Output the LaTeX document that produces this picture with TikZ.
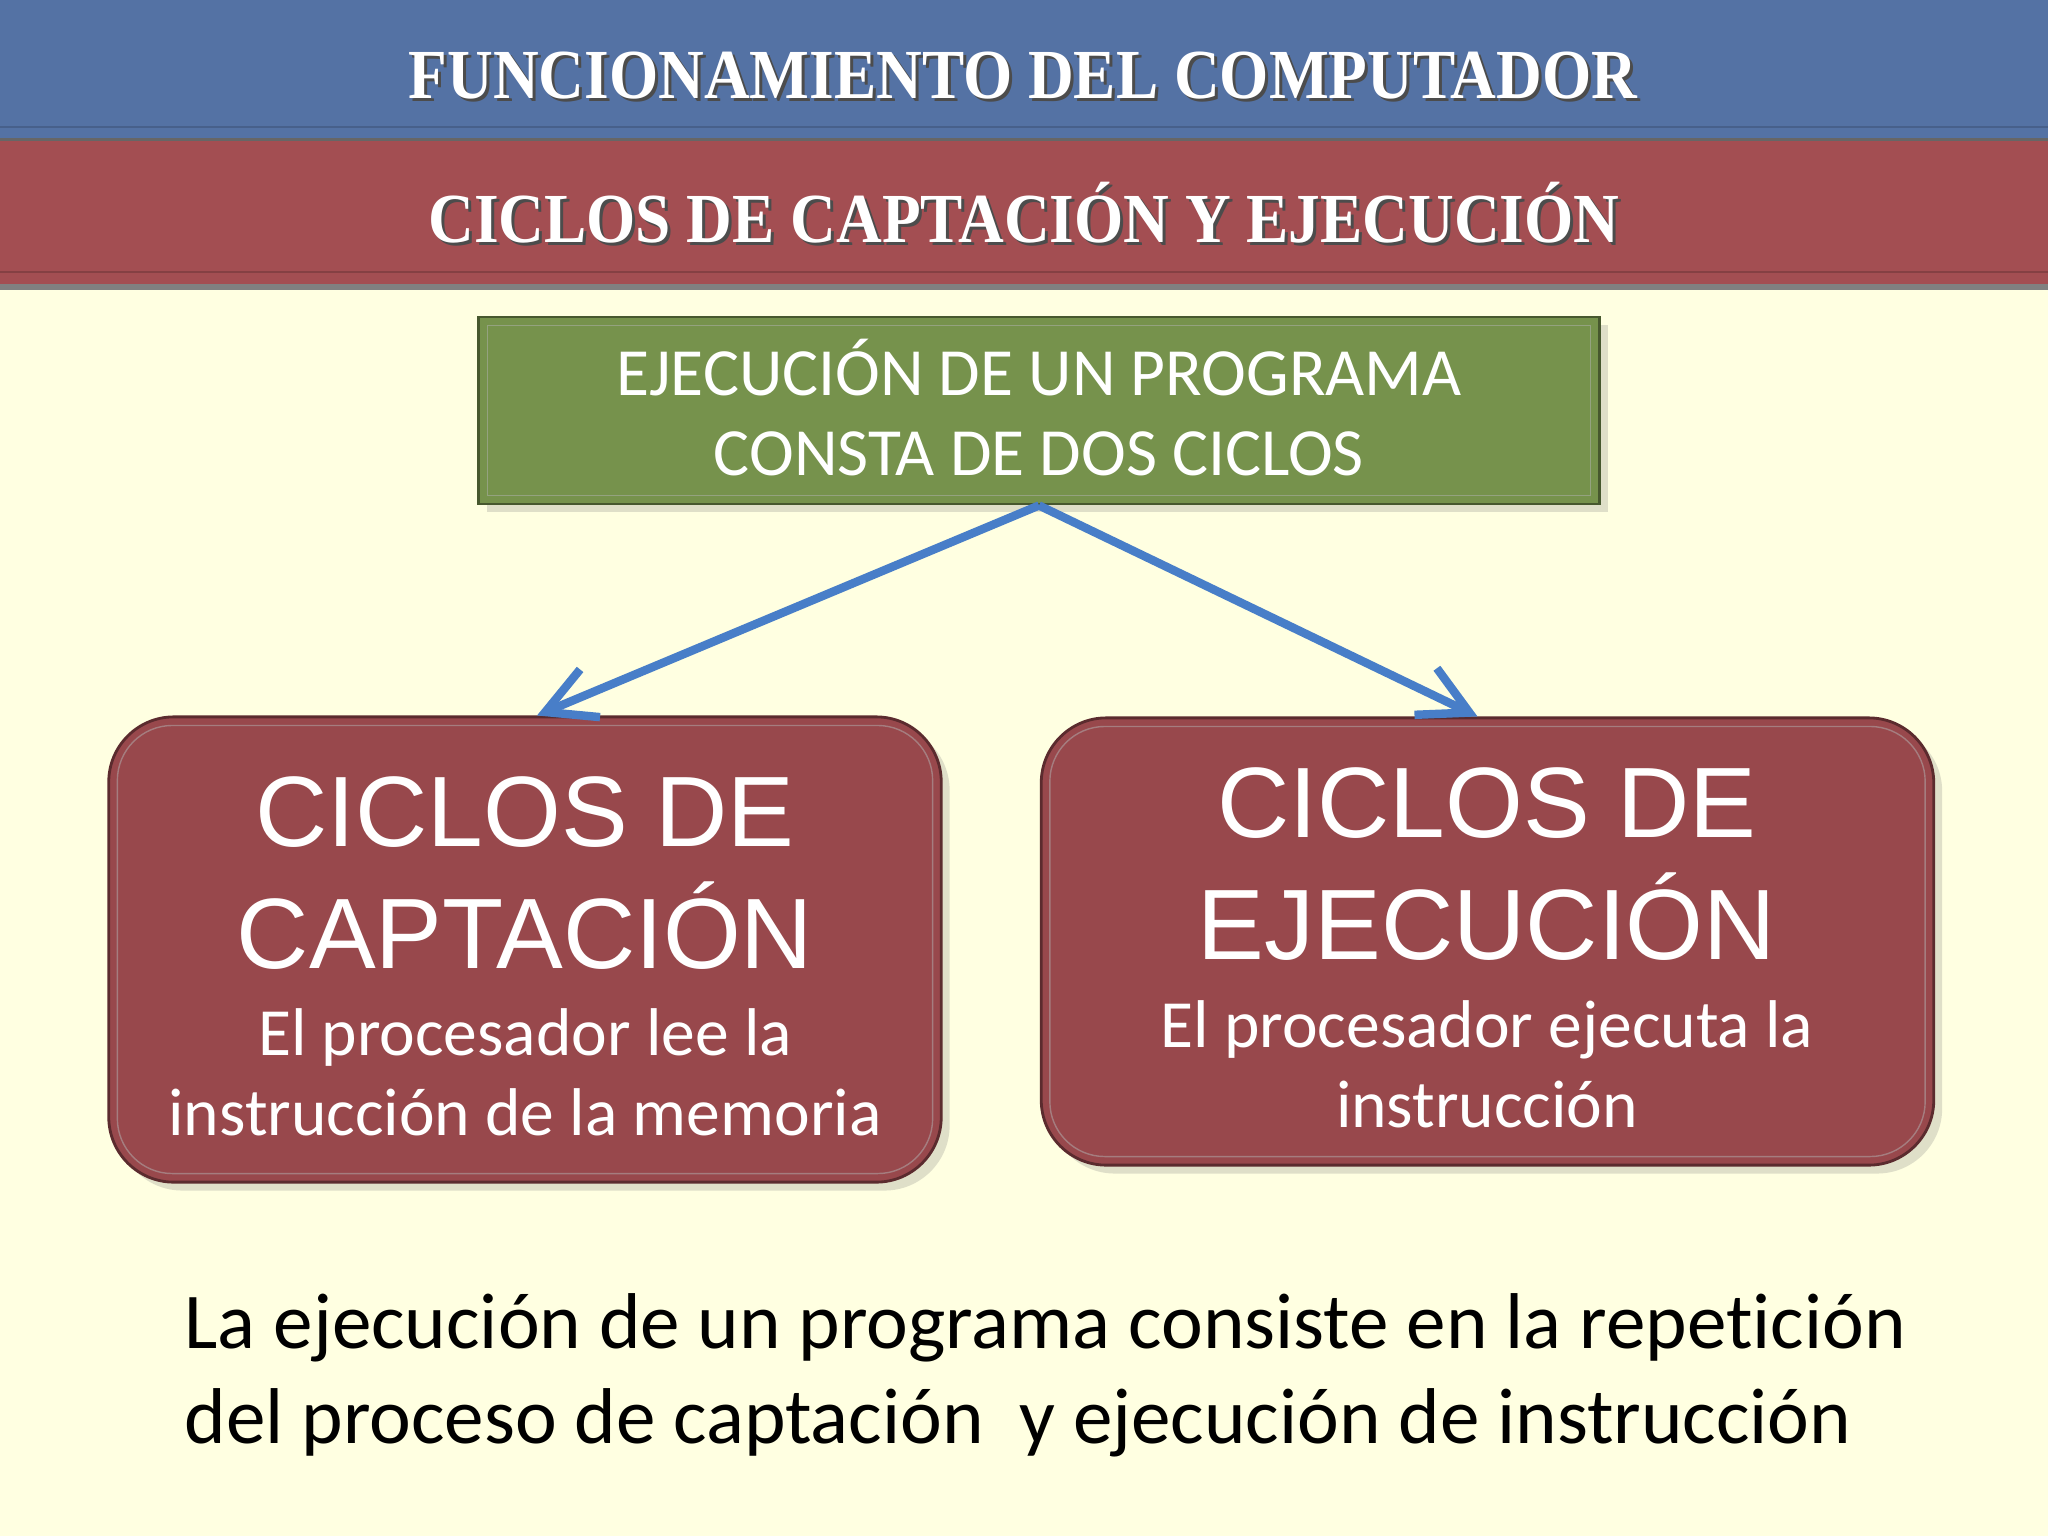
\documentclass[tikz,border=0pt]{standalone}
\usepackage{fontspec}
\setmainfont{Carlito}[Ligatures=NoCommon]
\newfontfamily\arialfont{Liberation Sans}
\newfontfamily\titulofont{Liberation Serif}
\usetikzlibrary{arrows.meta,positioning,shadows}

\definecolor{fondo}{RGB}{255,255,225}
\definecolor{azulbar}{RGB}{84,114,164}
\definecolor{rojobar}{RGB}{163,78,82}
\definecolor{rojocaja}{RGB}{152,72,76}
\definecolor{verdecaja}{RGB}{118,146,76}
\definecolor{flecha}{RGB}{72,126,200}

\tikzset{
    %Define standard arrow tip
    >={Straight Barb[length=13.8pt,width=14.7pt]},
    %Define style for title bars
    titulo/.style={
      inner sep=0pt,
      text=white,
      font=\titulofont\bfseries\fontsize{20}{24}\selectfont},
    sombra/.style={
      titulo,
      text=black!70},
    % Define style for boxes
    bloque/.style={
      rectangle,
      fill=verdecaja,
      draw=verdecaja!60!black, thick,
      minimum width=11.2cm,
      minimum height=1.87cm,
      drop shadow={opacity=0.25}},
    ciclo/.style={
      rectangle,
      rounded corners=0.65cm,
      fill=rojocaja,
      draw=rojocaja!60!black, thick,
      drop shadow={opacity=0.25}},
    marco/.style={
      draw=white!70!black, opacity=0.5, thin},
    % Define style for texts
    textoverde/.style={
      inner sep=0pt,
      text=white,
      align=center,
      font=\fontsize{19.2}{22.8}\selectfont},
    cabecera/.style={
      inner sep=0pt,
      text=white,
      align=center,
      font=\arialfont\fontsize{28.45}{34.7}\selectfont},
    descripcion/.style={
      textoverde},
    % Define arrow style
    arr/.style={
      ->,
      line width=2.4pt,
      draw=flecha}
}

\begin{document}
\begin{tikzpicture}[x=0.01cm, y=-0.01cm]
    \fill[fondo] (0,0) rectangle (2048,1536);
    \useasboundingbox (0,0) rectangle (2048,1536);

    % title bars
    \fill[azulbar] (0,0) rectangle (2048,140);
    \draw[azulbar!75!black, opacity=0.6] (0,127) -- (2048,127);
    \draw[black!60, line width=1pt] (0,140) -- (2048,140);
    \fill[rojobar] (0,141) rectangle (2048,287);
    \draw[rojobar!70!black, opacity=0.6] (0,272) -- (2048,272);
    \draw[black!50, line width=1.5pt] (0,287) -- (2048,287);

    \node[sombra, anchor=base] (tit1s) at (1026,101) {\scalebox{0.9}[1]{FUNCIONAMIENTO DEL COMPUTADOR}};
    \node[titulo, anchor=base] (tit1) at (1023,98) {\scalebox{0.9}[1]{FUNCIONAMIENTO DEL COMPUTADOR}};
    \node[sombra, anchor=base] (tit2s) at (1027,245) {\scalebox{0.9}[1]{CICLOS DE CAPTACIÓN Y EJECUCIÓN}};
    \node[titulo, anchor=base] (tit2) at (1024,242) {\scalebox{0.9}[1]{CICLOS DE CAPTACIÓN Y EJECUCIÓN}};

    % boxes
    \node[bloque] (programa) at (1039,410.5) {};
    \draw[marco] ([shift={(10,10)}]programa.north west) rectangle ([shift={(-10,-10)}]programa.south east);
    \node[textoverde] (programa_txt) at (1039,407.5) {EJECUCIÓN DE UN PROGRAMA\\CONSTA DE DOS CICLOS};

    \node[ciclo, minimum width=8.32cm, minimum height=4.65cm] (captacion) at (525,949.5) {};
    \node[ciclo, minimum width=8.92cm, minimum height=4.47cm] (ejecucion) at (1487.5,941.5) {};
    \draw[marco, rounded corners=0.55cm] ([shift={(10,10)}]captacion.north west) rectangle ([shift={(-10,-10)}]captacion.south east);
    \draw[marco, rounded corners=0.55cm] ([shift={(10,10)}]ejecucion.north west) rectangle ([shift={(-10,-10)}]ejecucion.south east);

    \node[cabecera] (captacion_tit) at (525,873) {CICLOS DE\\CAPTACIÓN};
    \node[descripcion] (captacion_txt) at (525,1072.5) {El procesador lee la\\instrucción de la memoria};
    \node[cabecera] (ejecucion_tit) at (1487,864) {CICLOS DE\\EJECUCIÓN};
    \node[descripcion] (ejecucion_txt) at (1487,1064) {El procesador ejecuta la\\instrucción};

    % arrows
    \draw[arr] (programa.south) -- ([xshift=0.12cm]captacion.north);
    \draw[arr] (programa.south) -- ([xshift=-0.1cm]ejecucion.north);

    % closing text
    \node[inner sep=0pt, align=left, anchor=west, font=\fontsize{22.5}{27}\selectfont] (resumen) at (184,1375)
      {La ejecución de un programa consiste en la repetición\\del proceso de captación\ \ y ejecución de instrucción};
\end{tikzpicture}
\end{document}
